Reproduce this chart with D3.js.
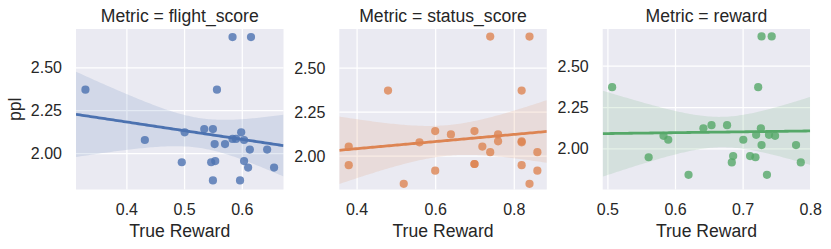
<!DOCTYPE html>
<html>
<head>
<meta charset="utf-8">
<script src="https://cdn.jsdelivr.net/npm/d3@7"></script>
<style>
  html, body { margin: 0; padding: 0; background: #ffffff; }
  svg { display: block; font-family: "Liberation Sans", Arial, "DejaVu Sans", sans-serif; }
</style>
</head>
<body>
<svg id="chart" width="831" height="249"></svg>
<script>
// ---- data ----
const metrics = ["flight_score", "status_score", "reward"];
const ppl = [2.677, 2.677, 2.370, 2.370, 2.140, 2.140, 2.121, 2.121,
             2.082, 2.082, 2.076, 2.076, 2.052, 2.052, 2.020, 2.020,
             1.953, 1.953, 1.946, 1.946, 1.915, 1.915, 1.840, 1.840];
const flightScore = [0.584, 0.616, 0.329, 0.557, 0.535, 0.550, 0.501, 0.599,
                     0.584, 0.590, 0.432, 0.604, 0.553, 0.571, 0.614, 0.644,
                     0.554, 0.604, 0.496, 0.547, 0.611, 0.656, 0.550, 0.597];
const statusScore = [0.74, 0.84, 0.48, 0.82, 0.60, 0.70, 0.64, 0.76,
                     0.76, 0.82, 0.56, 0.82, 0.38, 0.72, 0.74, 0.86,
                     0.70, 0.70, 0.38, 0.82, 0.60, 0.86, 0.52, 0.84];
const rewardScore = [0.728, 0.743, 0.507, 0.723, 0.654, 0.677, 0.642, 0.727,
                     0.720, 0.739, 0.583, 0.748, 0.590, 0.701, 0.728, 0.779,
                     0.686, 0.711, 0.561, 0.719, 0.684, 0.786, 0.620, 0.736];
const xTickValues = [[0.3, 0.4, 0.5, 0.6, 0.7], [0.4, 0.6, 0.8], [0.5, 0.6, 0.7, 0.8]];
const yTickValues = [[1.75, 2.00, 2.25, 2.50], [1.75, 2.00, 2.25, 2.50], [1.75, 2.00, 2.25, 2.50]];
const yLimits = [[1.787, 2.724], [1.808, 2.720], [1.751, 2.722]];
const colors = ["#4C72B0", "#DD8452", "#55A868"];
const xSeries = [flightScore, statusScore, rewardScore];

// ---- layout ----
const svg = d3.select("#chart");
const panelLeft = [76, 339.3, 602.7];
const panelW = 207.5;
const plotTop = 29, plotBottom = 189.5;
const textColor = "#262626";

// OLS fit with a heteroskedasticity-robust (sandwich) 95% band for the mean,
// a deterministic stand-in for seaborn's pairs-bootstrap interval.
function regression(xs, ys) {
  const n = xs.length;
  const mx = d3.mean(xs), my = d3.mean(ys);
  let sxx = 0, sxy = 0;
  for (let i = 0; i < n; i++) { sxx += (xs[i] - mx) ** 2; sxy += (xs[i] - mx) * (ys[i] - my); }
  const b = sxy / sxx, a = my - b * mx;
  let s0 = 0, s1 = 0, s2 = 0;
  for (let i = 0; i < n; i++) {
    const u = xs[i] - mx, e2 = (ys[i] - a - b * xs[i]) ** 2;
    s0 += e2; s1 += e2 * u; s2 += e2 * u * u;
  }
  const scale = n / (n - 2);
  const t = 2.074;
  return {
    a, b,
    band: x0 => {
      const u0 = x0 - mx;
      const v = scale * (s0 / (n * n) + 2 * u0 * s1 / (n * sxx) + u0 * u0 * s2 / (sxx * sxx));
      return t * Math.sqrt(Math.max(v, 0));
    }
  };
}

metrics.forEach((m, k) => {
  const xs = xSeries[k];
  const ext = d3.extent(xs);
  const pad = (ext[1] - ext[0]) * 0.05;
  const xDom = [ext[0] - pad, ext[1] + pad];
  const x = d3.scaleLinear().domain(xDom).range([panelLeft[k], panelLeft[k] + panelW]);
  const y = d3.scaleLinear().domain(yLimits[k]).range([plotBottom, plotTop]);
  const g = svg.append("g");

  g.append("rect").attr("x", panelLeft[k]).attr("y", plotTop)
    .attr("width", panelW).attr("height", plotBottom - plotTop).attr("fill", "#EAEAF2");

  const eps = 0.0015;
  const xt = xTickValues[k].filter(v => v >= xDom[0] - eps && v <= xDom[1] + eps);
  const yt = yTickValues[k].filter(v => v >= yLimits[k][0] && v <= yLimits[k][1]);

  const xGrid = g.append("g").attr("transform", `translate(0,${plotBottom})`)
    .call(d3.axisBottom(x).tickValues(xt).tickSize(-(plotBottom - plotTop)).tickFormat(""));
  const yGrid = g.append("g").attr("transform", `translate(${panelLeft[k]},0)`)
    .call(d3.axisLeft(y).tickValues(yt).tickSize(-panelW).tickFormat(""));
  [xGrid, yGrid].forEach(ax => {
    ax.select(".domain").remove();
    ax.selectAll("line").attr("stroke", "#ffffff").attr("stroke-width", 1.25);
  });

  const clipId = "clip" + k;
  svg.append("clipPath").attr("id", clipId).append("rect")
    .attr("x", panelLeft[k]).attr("y", plotTop).attr("width", panelW).attr("height", plotBottom - plotTop);
  const plot = g.append("g").attr("clip-path", `url(#${clipId})`);

  plot.selectAll("circle").data(xs.map((v, i) => [v, ppl[i]])).join("circle")
    .attr("cx", d => x(d[0])).attr("cy", d => y(d[1])).attr("r", 4.1)
    .attr("fill", colors[k]).attr("fill-opacity", 0.8);

  const reg = regression(xs, ppl);
  const grid = d3.range(0, 101).map(i => xDom[0] + (xDom[1] - xDom[0]) * i / 100);
  const area = d3.area()
    .x(d => x(d))
    .y0(d => y(reg.a + reg.b * d - reg.band(d)))
    .y1(d => y(reg.a + reg.b * d + reg.band(d)));
  plot.append("path").datum(grid).attr("d", area)
    .attr("fill", colors[k]).attr("fill-opacity", 0.15);
  const line = d3.line().x(d => x(d)).y(d => y(reg.a + reg.b * d));
  plot.append("path").datum(grid).attr("d", line)
    .attr("fill", "none").attr("stroke", colors[k]).attr("stroke-width", 2.8);

  const xLab = g.append("g").attr("transform", `translate(0,${plotBottom})`)
    .call(d3.axisBottom(x).tickValues(xt).tickSize(0).tickPadding(0).tickFormat(d3.format(".1f")));
  xLab.select(".domain").remove();
  xLab.selectAll("text").attr("y", 0).attr("dy", "25.5px")
    .attr("font-size", "16px").attr("fill", textColor)
    .attr("font-family", "'Liberation Sans', Arial, sans-serif");

  const yLab = g.append("g").attr("transform", `translate(${panelLeft[k]},0)`)
    .call(d3.axisLeft(y).tickValues(yt).tickSize(0).tickFormat(d3.format(".2f")));
  yLab.select(".domain").remove();
  yLab.selectAll("text").attr("x", -14).attr("dy", "0.35em")
    .attr("font-size", "16px").attr("fill", textColor)
    .attr("font-family", "'Liberation Sans', Arial, sans-serif");

  g.append("text").attr("x", panelLeft[k] + panelW / 2).attr("y", 21.7)
    .attr("text-anchor", "middle").attr("font-size", "17.6px").attr("fill", textColor)
    .text(`Metric = ${m}`);

  g.append("text").attr("x", panelLeft[k] + panelW / 2).attr("y", 236.7)
    .attr("text-anchor", "middle").attr("font-size", "17.6px").attr("fill", textColor)
    .text("True Reward");
});

svg.append("text").attr("transform", `translate(20.5,${(plotTop + plotBottom) / 2}) rotate(-90)`)
  .attr("text-anchor", "middle").attr("font-size", "17.6px").attr("fill", textColor)
  .text("ppl");
</script>
</body>
</html>
